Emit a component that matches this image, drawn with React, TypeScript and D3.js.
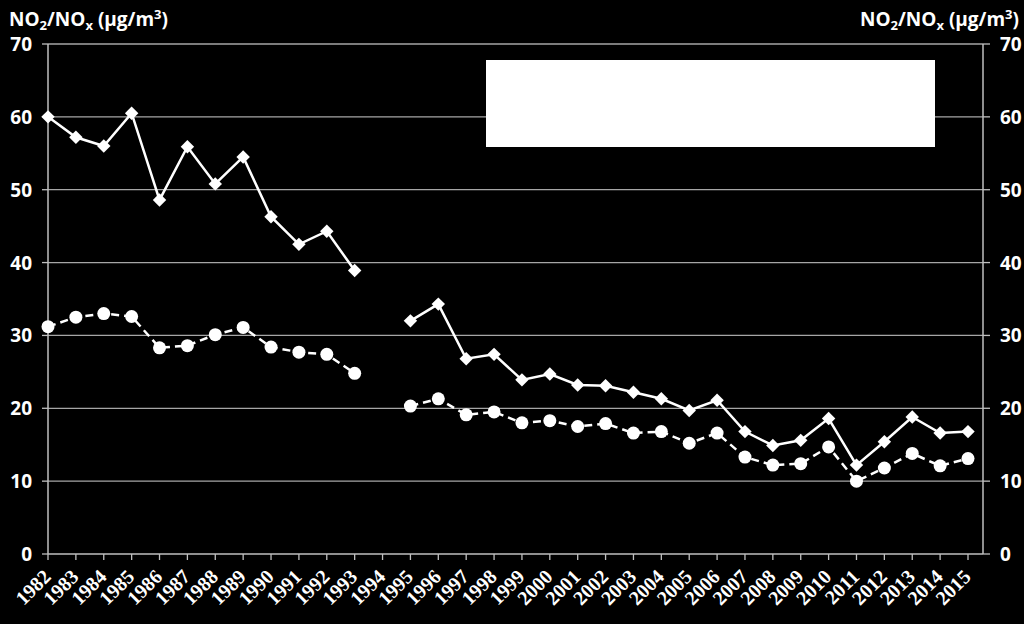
import React from "react";
import * as d3 from "d3";

const years = d3.range(1982, 2016).map(String);

// solid line with diamonds (1994 missing)
const seriesNOx: (number | null)[] = [
    60.0, 57.2, 56.0, 60.5, 48.6, 55.9, 50.8, 54.5, 46.3, 42.5, 44.3, 38.9,
    null,
    32.0, 34.3, 26.8, 27.4, 23.9, 24.7, 23.2, 23.1, 22.2, 21.3, 19.7, 21.1,
    16.8, 14.9, 15.6, 18.6, 12.2, 15.4, 18.8, 16.6, 16.8,
];

// dashed line with circles
const seriesNO2: (number | null)[] = [
    31.2, 32.5, 33.0, 32.6, 28.3, 28.6, 30.1, 31.1, 28.4, 27.7, 27.4, 24.8,
    null,
    20.3, 21.3, 19.1, 19.5, 18.0, 18.3, 17.5, 17.9, 16.6, 16.8, 15.2, 16.6,
    13.3, 12.2, 12.4, 14.7, 10.0, 11.8, 13.8, 12.1, 13.1,
];

const yTicks = [0, 10, 20, 30, 40, 50, 60, 70];

const W = 1024;
const H = 624;
const plot = {left: 48, right: 983, top: 44, bottom: 554};
const sans = "'Open Sans', 'Liberation Sans', sans-serif";
const serif = "'Liberation Serif', 'Times New Roman', serif";

const AxisTitle: React.FC<{x: number; anchor: "start" | "end"}> = ({x, anchor}) => (
    <text x={x} y={26} fill="#fff" fontFamily={sans} fontWeight={700} fontSize={19} textAnchor={anchor}>
        NO<tspan fontSize={13} dy={4}>2</tspan>
        <tspan dy={-4}>/NO</tspan>
        <tspan fontSize={13} dy={4}>x</tspan>
        <tspan dy={-4}> (µg/m</tspan>
        <tspan fontSize={13} dy={-7}>3</tspan>
        <tspan dy={7}>)</tspan>
    </text>
);

export default function App() {
    const xScale = d3
        .scalePoint<string>()
        .domain(years)
        .range([plot.left, 968]);

    const yScale = d3
        .scaleLinear()
        .domain([0, 70])
        .range([plot.bottom, plot.top]);

    const line = d3
        .line<number | null>()
        .defined((d) => d !== null)
        .x((d, i) => xScale(years[i]) as number)
        .y((d) => yScale(d as number));

    const diamond = d3.symbol().type(d3.symbolDiamond2).size(115)();

    return (
        <svg width={W} height={H} style={{position: "absolute", left: 0, top: 0, background: "#000"}}>
            <rect x={0} y={0} width={W} height={H} fill="#000"/>

            {/* gridlines */}
            {yTicks.filter((t) => t > 0).map((t) => (
                <line key={t} x1={plot.left} x2={plot.right} y1={yScale(t)} y2={yScale(t)}
                      stroke="#a6a6a6" strokeWidth={1.3}/>
            ))}

            {/* left axis */}
            <line x1={plot.left} x2={plot.left} y1={plot.top} y2={plot.bottom} stroke="#bfbfbf" strokeWidth={1.5}/>
            {yTicks.map((t) => (
                <g key={"l" + t}>
                    <line x1={plot.left - 6} x2={plot.left} y1={yScale(t)} y2={yScale(t)} stroke="#bfbfbf" strokeWidth={1.3}/>
                    <text x={32} y={yScale(t) + 7} fill="#fff" fontFamily={sans} fontWeight={700} fontSize={19}
                          textAnchor="end">{t}</text>
                </g>
            ))}

            {/* right axis */}
            <line x1={plot.right} x2={plot.right} y1={plot.top} y2={plot.bottom} stroke="#bfbfbf" strokeWidth={1.5}/>
            {yTicks.map((t) => (
                <g key={"r" + t}>
                    <line x1={plot.right} x2={plot.right + 7} y1={yScale(t)} y2={yScale(t)} stroke="#bfbfbf" strokeWidth={1.3}/>
                    <text x={1000} y={yScale(t) + 7} fill="#fff" fontFamily={sans} fontWeight={700} fontSize={19}
                          textAnchor="start">{t}</text>
                </g>
            ))}

            {/* x axis */}
            <line x1={plot.left} x2={plot.right} y1={plot.bottom} y2={plot.bottom} stroke="#bfbfbf" strokeWidth={1.5}/>
            {years.map((y) => {
                const x = xScale(y) as number;
                return (
                    <g key={y}>
                        <line x1={x} x2={x} y1={plot.bottom} y2={plot.bottom + 6} stroke="#bfbfbf" strokeWidth={1.3}/>
                        <text transform={`translate(${x + 4},${plot.bottom + 24}) rotate(-45)`} fill="#fff"
                              fontFamily={serif} fontWeight={700} fontSize={20} textAnchor="end">{y}</text>
                    </g>
                );
            })}

            <AxisTitle x={9} anchor="start"/>
            <AxisTitle x={1019} anchor="end"/>

            {/* legend box (blank) */}
            <rect x={486} y={60} width={449} height={87} fill="#fff"/>

            {/* dashed series */}
            <path d={line(seriesNO2) || ""} fill="none" stroke="#fff" strokeWidth={2.5} strokeDasharray="8,5"/>
            {seriesNO2.map((v, i) => v === null ? null : (
                <circle key={"c" + i} cx={xScale(years[i])} cy={yScale(v)} r={6.5} fill="#fff"/>
            ))}

            {/* solid series */}
            <path d={line(seriesNOx) || ""} fill="none" stroke="#fff" strokeWidth={2.5}/>
            {seriesNOx.map((v, i) => v === null ? null : (
                <path key={"d" + i} d={diamond || ""} transform={`translate(${xScale(years[i])},${yScale(v)})`}
                      fill="#fff"/>
            ))}
        </svg>
    );
}
